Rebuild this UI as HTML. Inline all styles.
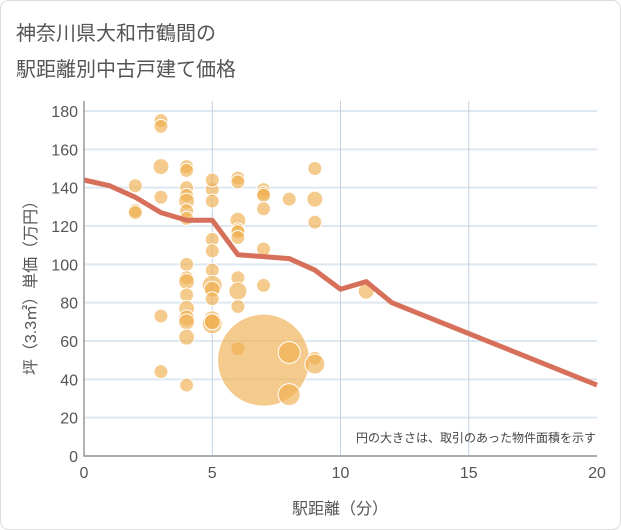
<!DOCTYPE html>
<html><head><meta charset="utf-8"><style>
body{margin:0;background:#fff;}
svg{display:block;font-family:"Liberation Sans","Noto Sans CJK JP",sans-serif;}
</style></head><body>
<svg width="621" height="530">
<rect x="0.5" y="0.5" width="620" height="529" rx="8" fill="#fff" stroke="#ddd"/>
<text x="16" y="40" font-size="20" fill="#555">神奈川県大和市鶴間の</text>
<text x="16" y="76" font-size="20" fill="#555">駅距離別中古戸建て価格</text>
<g id="grid"></g>
<g id="marks"></g>
<g id="axes"></g>
<text x="596" y="442" font-size="12" fill="#444" text-anchor="end">円の大きさは、取引のあった物件面積を示す</text>
<text x="340" y="514" font-size="16" fill="#555" text-anchor="middle">駅距離（分）</text>
<text transform="translate(36,284) rotate(-90)" font-size="16" fill="#555" text-anchor="middle">坪（3.3㎡）単価（万円）</text>
</svg>
<script>
const xTicks=[0,5,10,15,20];
const yTicks=[0,20,40,60,80,100,120,140,160,180];
const bubbleX=[2,2,2,3,3,3,3,3,3,4,4,4,4,4,4,4,4,4,4,4,4,4,4,4,4,5,5,5,5,5,5,5,5,5,5,5,5,6,6,6,6,6,6,6,6,6,6,7,7,7,7,7,7,7,8,8,8,9,9,9,9,9,11];
const bubbleY=[141,128,127,175,172,151,135,73,44,151,149,140,136,133,128,124,100,93,91,84,77,72,70,62,37,139,133,144,113,107,97,89,87,82,71,69,70,145,143,123,118,117,114,93,86,78,56,139,137,136,129,108,89,50,134,54,32,150,134,122,51,48,86];
const bubbleR=[7,7,7,7,7,8,7,7,7,7,7,7,7,8,7,7,7,7,8,7,8,8,8,8,7,7,7,7,7,7,7,10,8,7,9,10,8,7,7,8,7,7,7,7,9,7,7,7,7,7,7,7,7,46,7,11,11,7,8,7,7,10,8];
const lineX=[0,1,2,3,4,5,6,7,8,9,10,11,12,20];
const lineY=[144,141,135,127,123,123,105,104,103,97,87,91,80,37];
const L=84,R=597,T=111,B=456;
const sx=v=>L+(R-L)*v/20, sy=v=>B-(B-T)*v/180;
const NS="http://www.w3.org/2000/svg";
function mk(t,a,p){const e=document.createElementNS(NS,t);for(const k in a)e.setAttribute(k,a[k]);p.appendChild(e);return e;}
const grid=document.getElementById('grid'),marks=document.getElementById('marks'),axes=document.getElementById('axes');
yTicks.forEach(v=>{const l=mk('line',{x1:L,x2:R,y1:sy(v),y2:sy(v),stroke:'#dde8f0','stroke-width':2},grid);


const t=mk('text',{x:L-6,y:sy(v)+6,'font-size':16,fill:'#555','text-anchor':'end'},axes);t.textContent=v;

});
xTicks.forEach(v=>{if(v>0&&v<20){const l=mk('line',{x1:sx(v),x2:sx(v),y1:T-10,y2:B,stroke:'#c0d0e0','stroke-width':1},grid);

}
const t=mk('text',{x:sx(v),y:B+22,'font-size':16,fill:'#555','text-anchor':'middle'},axes);t.textContent=v;

});
const ax=mk('path',{d:`M${L},${T-10}V${B}H${R}`,fill:'none',stroke:'#999','stroke-width':1.5},axes);


bubbleX.forEach((x,i)=>{const c=mk('circle',{cx:sx(x),cy:sy(bubbleY[i]),r:bubbleR[i],fill:'rgba(240,175,80,0.65)',stroke:'#fff','stroke-width':1},marks);

});
const p=mk('polyline',{points:lineX.map((x,i)=>sx(x)+','+sy(lineY[i])).join(' '),fill:'none',stroke:'#d6705a','stroke-width':5,'stroke-linejoin':'round'},marks);


</script>
</body></html>
